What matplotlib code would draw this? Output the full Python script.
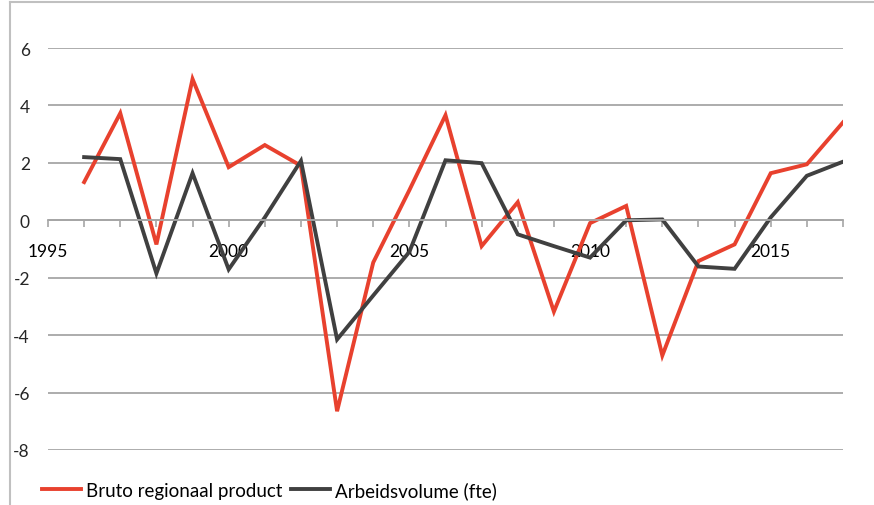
import matplotlib
matplotlib.use("Agg")
import matplotlib.pyplot as plt
from matplotlib.lines import Line2D

jaren = list(range(1996, 2018))
brp = [1.33, 3.73, -0.84, 4.92, 1.85, 2.62, 1.90, -6.65, -1.47, 1.05, 3.66,
       -0.90, 0.63, -3.18, -0.10, 0.50, -4.71, -1.42, -0.84, 1.64, 1.95, 3.41]
arbeid = [2.20, 2.13, -1.85, 1.64, -1.71, 0.10, 2.07, -4.15, -2.62, -1.10, 2.09,
          1.99, -0.49, -0.90, -1.30, 0.00, 0.03, -1.61, -1.69, 0.10, 1.55, 2.04]
x_labels = [1995, 2000, 2005, 2010, 2015]
y_ticks = [-8, -6, -4, -2, 0, 2, 4, 6]

plt.rcParams['font.family'] = ['Lato', 'DejaVu Sans']

fig = plt.figure(figsize=(8.74, 5.06), dpi=100)
W, H = 874, 506
ax = fig.add_axes([48 / W, (H - 451) / H, (843 - 48) / W, (451 - 49) / H])

# rand van de grafiek (deels buiten beeld)
rand = '#c0c0c0'
fig.add_artist(Line2D([10 / W, 10 / W], [0, (H - 3) / H], color=rand, lw=1.5))
fig.add_artist(Line2D([10 / W, 1], [(H - 3) / H, (H - 3) / H], color=rand, lw=1.5))

ax.plot(jaren, brp, color='#e8412e', lw=2.8, solid_joinstyle='miter',
        label='Bruto regionaal product')
ax.plot(jaren, arbeid, color='#404040', lw=2.8, solid_joinstyle='miter',
        label='Arbeidsvolume (fte)')

ax.set_xlim(1995, 2017)
ax.set_ylim(-8, 6)
ax.set_yticks(y_ticks)
ax.set_yticklabels([str(v) for v in y_ticks], color='#262626')
ax.yaxis.grid(True, color='#a6a6a6', lw=1.3)
ax.set_axisbelow(True)

ax.set_xticks(x_labels)
ax.set_xticklabels([str(v) for v in x_labels], color='#262626')
ax.set_xticks(range(1995, 2018), minor=True)

for s in ['top', 'right', 'left']:
    ax.spines[s].set_visible(False)
ax.spines['bottom'].set_position(('data', 0))
ax.spines['bottom'].set_color('#a6a6a6')
ax.spines['bottom'].set_linewidth(1.3)

ax.tick_params(axis='y', length=0, pad=13, labelsize=12.5)
ax.tick_params(axis='x', which='both', direction='out', length=5, width=1.2,
               color='#a6a6a6', pad=11, labelsize=12.5)

ax.legend(loc='center left', bbox_to_anchor=(42 / W, 15 / H),
          bbox_transform=fig.transFigure, ncol=2, frameon=False,
          fontsize=13.5, handlelength=2.1, handletextpad=0.25,
          columnspacing=0.45, borderaxespad=0, borderpad=0)

fig.savefig('out.png', dpi=100)
